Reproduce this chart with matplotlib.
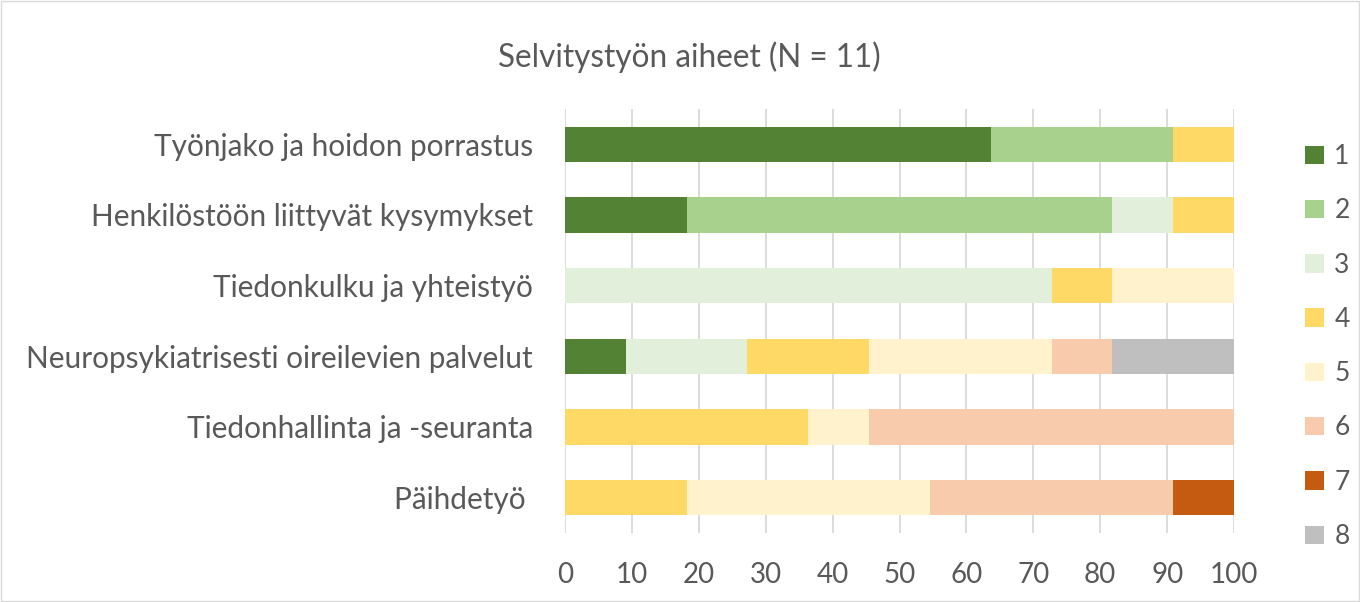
import numpy as np
import matplotlib.pyplot as plt
from matplotlib.patches import Rectangle

categories = [
    "Työnjako ja hoidon porrastus",
    "Henkilöstöön liittyvät kysymykset",
    "Tiedonkulku ja yhteistyö",
    "Neuropsykiatrisesti oireilevien palvelut",
    "Tiedonhallinta ja -seuranta",
    "Päihdetyö ",
]
series_names = ["1", "2", "3", "4", "5", "6", "7", "8"]
# counts per category out of N = 11, converted to percentages below
counts = {
    "1": [7, 2, 0, 1, 0, 0],
    "2": [3, 7, 0, 0, 0, 0],
    "3": [0, 1, 8, 2, 0, 0],
    "4": [1, 1, 1, 2, 4, 2],
    "5": [0, 0, 2, 3, 1, 4],
    "6": [0, 0, 0, 1, 6, 4],
    "7": [0, 0, 0, 0, 0, 1],
    "8": [0, 0, 0, 2, 0, 0],
}
colors = ["#548235", "#A9D18E", "#E2EFDA", "#FFD966",
          "#FFF2CC", "#F8CBAD", "#C55A11", "#BFBFBF"]
xticks = list(range(0, 101, 10))

plt.rcParams['font.family'] = ['Lato', 'DejaVu Sans']

fig = plt.figure(figsize=(13.6, 6.02), dpi=100)
ax = fig.add_axes([0.4154, 0.1146, 0.492, 0.7044])

y = np.arange(len(categories))
left = np.zeros(len(categories))
for name, col in zip(series_names, colors):
    vals = np.array(counts[name]) / 11 * 100
    ax.barh(y, vals, left=left, height=0.5, color=col, label=name, zorder=3)
    left += vals

ax.set_xlim(0, 100)
ax.set_ylim(len(categories) - 0.5, -0.5)
ax.set_xticks(xticks)
ax.set_yticks(y)
ax.set_yticklabels(categories)
ax.tick_params(axis='both', length=0, colors='#595959')
ax.tick_params(axis='x', pad=21, labelsize=20)
ax.tick_params(axis='y', pad=23, labelsize=21.4)
ax.grid(axis='x', color='#D9D9D9', linewidth=1.3, zorder=0)
for s in ax.spines.values():
    s.set_visible(False)

fig.text(0.507, 0.905, "Selvitystyön aiheet (N = 11)", fontsize=22.7,
         color='#595959', ha='center', va='center')

fig.legend(loc='center left', bbox_to_anchor=(0.952, 0.4244), frameon=False,
           fontsize=19, handlelength=0.7, handleheight=0.7, handletextpad=0.4,
           labelspacing=1.11, labelcolor='#595959', borderaxespad=0)

fig.patches.append(Rectangle((0.001, 0.001), 0.998, 0.997, transform=fig.transFigure,
                             fill=False, edgecolor='#D9D9D9', linewidth=1))

fig.savefig("out.png", dpi=100)
